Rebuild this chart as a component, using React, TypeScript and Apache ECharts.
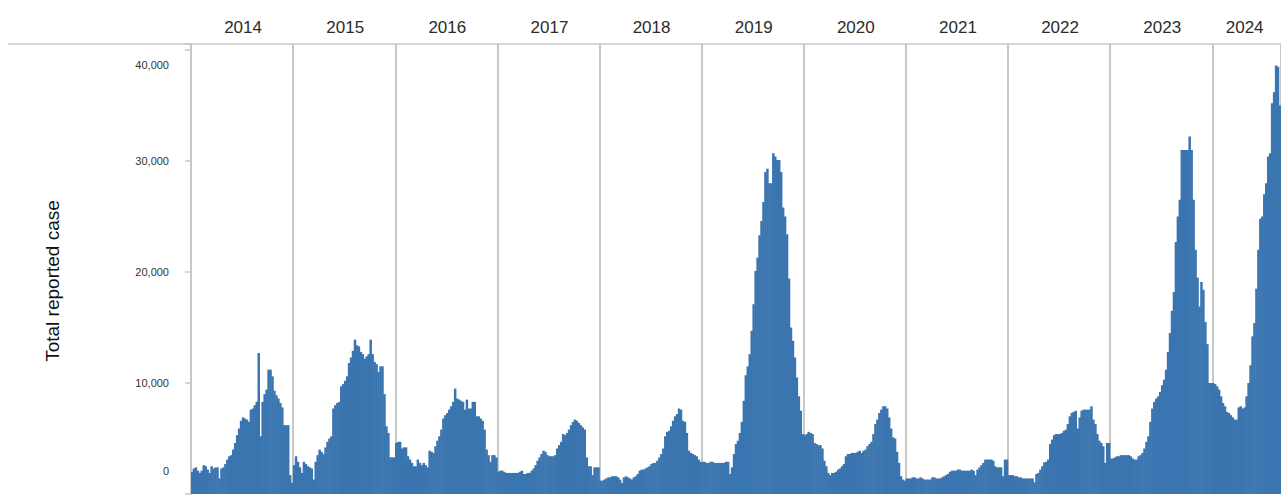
import React, { useEffect, useRef } from "react";
import * as echarts from "echarts";

const years = ["2014", "2015", "2016", "2017", "2018", "2019", "2020", "2021", "2022", "2023", "2024"];

const w2014 = [2000, 2300, 2400, 2100, 1900, 2100, 2600, 2500, 2200, 1900, 2500, 2300, 2400, 2400, 1400, 2300, 2400, 2700, 3100, 3400, 3500, 4000, 4600, 5300, 5900, 6600, 6900, 6800, 6700, 6500, 7600, 7700, 8000, 8300, 12700, 5200, 8300, 9000, 9400, 11200, 11200, 10600, 9300, 8900, 8600, 8200, 7800, 6200, 6200, 6200, 1700, 1000];
const w2015 = [2600, 3400, 2900, 2400, 1900, 2900, 2700, 2500, 2400, 2300, 1300, 2900, 3500, 4000, 3800, 3600, 4200, 4700, 5000, 5200, 7700, 8000, 8200, 8300, 9700, 9900, 10200, 10600, 11800, 12300, 12900, 13900, 13400, 13300, 12800, 12600, 12200, 12400, 12600, 13900, 12600, 11900, 11700, 11000, 11500, 11500, 9000, 6100, 5500, 3300, 3300, 3300];
const w2016 = [4600, 4700, 4700, 4100, 4200, 4200, 3400, 3100, 2800, 2500, 2500, 3100, 2800, 2600, 2800, 2600, 2400, 3900, 3800, 3700, 4300, 4800, 5200, 5800, 6800, 7100, 7300, 7600, 7900, 8300, 9500, 8600, 8500, 8400, 8300, 7600, 8500, 7700, 7700, 8300, 8300, 7000, 7000, 6800, 6600, 5800, 4000, 3500, 2900, 3500, 3500, 3300];
const w2017 = [2000, 2100, 2100, 2000, 1900, 1900, 1900, 1900, 1900, 1900, 1900, 2000, 2100, 1800, 1800, 1900, 1900, 2100, 2300, 2600, 3000, 3300, 3600, 3900, 3800, 3500, 3400, 3400, 3400, 3500, 4100, 4400, 4700, 5400, 5300, 5500, 5800, 6200, 6500, 6700, 6600, 6400, 6200, 6000, 5800, 3300, 2500, 2500, 1700, 2400, 2400, 2400];
const w2018 = [1200, 1200, 1300, 1400, 1500, 1500, 1600, 1600, 1600, 1500, 1300, 1000, 1500, 1600, 1500, 1400, 1300, 1500, 1600, 1800, 2100, 2200, 2200, 2300, 2400, 2500, 2700, 2800, 2800, 3000, 3300, 3600, 4100, 5200, 5600, 5700, 6100, 6600, 7000, 7200, 7700, 7600, 6600, 6500, 5500, 3900, 3700, 3600, 3500, 3400, 3100, 2900];
const w2019 = [2900, 2900, 2800, 2800, 2900, 2900, 2800, 2800, 2800, 2800, 2800, 2800, 2900, 2900, 1800, 2400, 3600, 4500, 4800, 5500, 6500, 8400, 10700, 11500, 12600, 14700, 17100, 20100, 21300, 23300, 24600, 26300, 29000, 29300, 28000, 28000, 30700, 30400, 30100, 30100, 29000, 25800, 25000, 23400, 19400, 15000, 13800, 12300, 10500, 8800, 7500, 5400];
const w2020 = [5300, 5400, 5600, 5500, 5400, 4600, 4500, 4400, 4400, 4100, 3000, 2500, 1900, 1700, 1900, 1900, 2000, 2200, 2300, 2500, 2700, 3400, 3600, 3600, 3700, 3700, 3700, 3800, 3900, 3700, 3900, 4000, 4300, 4500, 4700, 5400, 6300, 6700, 7300, 7600, 7900, 7900, 7700, 6900, 5900, 5100, 5000, 3800, 2800, 1600, 1300, 1200];
const w2021 = [1400, 1400, 1400, 1500, 1500, 1400, 1400, 1500, 1400, 1300, 1300, 1300, 1300, 1500, 1500, 1400, 1400, 1400, 1500, 1600, 1700, 1800, 2000, 2100, 2100, 2100, 2200, 2200, 2100, 2100, 2100, 2100, 2100, 2200, 2100, 1700, 2200, 2400, 2600, 2800, 3100, 3100, 3100, 3100, 3000, 2500, 2400, 2400, 2400, 1600, 3100, 3100];
const w2022 = [1700, 1700, 1700, 1600, 1600, 1500, 1500, 1400, 1400, 1400, 1400, 1400, 1400, 1050, 1800, 1900, 2200, 2500, 2850, 2900, 3100, 4500, 4900, 5300, 5400, 5400, 5400, 5500, 5700, 5800, 6300, 7000, 7300, 7400, 7500, 5900, 6900, 7500, 7600, 7600, 7600, 7600, 7900, 6700, 6300, 5400, 4800, 4600, 4300, 2800, 4600, 4600];
const w2023 = [3200, 3200, 3300, 3400, 3400, 3500, 3500, 3500, 3500, 3500, 3400, 3200, 3100, 3100, 3400, 3500, 3700, 4100, 4700, 5200, 6500, 7700, 8300, 8600, 8800, 9200, 9800, 10300, 11200, 12800, 14500, 16500, 18200, 22700, 25000, 26500, 31000, 31000, 31000, 31000, 32200, 31000, 26500, 22000, 19500, 16900, 19100, 18400, 15500, 13500, 10000, 10000];
const w2024 = [10000, 9900, 9700, 9400, 8800, 8200, 7900, 7400, 7300, 7100, 6900, 6700, 6700, 7800, 7900, 7700, 7800, 8800, 10000, 11600, 14200, 15400, 18500, 22000, 24800, 25000, 27000, 28000, 30400, 30700, 35200, 36200, 38600, 38500, 35000];

const weeklyByYear = [w2014, w2015, w2016, w2017, w2018, w2019, w2020, w2021, w2022, w2023, w2024];
const yTickValues = [0, 10000, 20000, 30000, 40000];
const yTitle = "Total reported case";

const FONT = "'Liberation Sans', Arial, Helvetica, sans-serif";

export default function App() {
  const ref = useRef<HTMLDivElement>(null);

  useEffect(() => {
    if (!ref.current) return;
    const chart = echarts.init(ref.current, null, { renderer: "svg" });

    const categories: string[] = [];
    const values: number[] = [];
    const yearStart = new Set<number>();
    const labelAt = new Set<number>();
    weeklyByYear.forEach((arr, yi) => {
      const start = categories.length;
      yearStart.add(start);
      labelAt.add(start + (arr.length >= 52 ? 26 : Math.floor(arr.length / 2) - 1));
      arr.forEach((v, wi) => {
        categories.push(`${years[yi]}-W${String(wi + 1).padStart(2, "0")}`);
        values.push(v);
      });
    });

    const H = 495;
    const gridTop = 44;
    const gridBottom = 1;
    const plotH = H - gridTop - gridBottom;
    const topTickValue = yTickValues[yTickValues.length - 1];
    const yMax = (topTickValue * plotH) / (plotH - 6);

    const fmt = (v: number) => {
      if (!yTickValues.includes(v)) return "";
      const s = v.toLocaleString("en-US");
      if (v === topTickValue) return `{top|${s}}`;
      if (v === 0) return `{bot|${s}}`;
      return `{mid|${s}}`;
    };

    chart.setOption({
      animation: false,
      backgroundColor: "#ffffff",
      grid: { left: 191, right: 0, top: gridTop, bottom: gridBottom, containLabel: false },
      xAxis: {
        type: "category",
        data: categories,
        position: "top",
        boundaryGap: true,
        axisLine: { show: false },
        axisTick: {
          show: true,
          interval: (i: number) => yearStart.has(i),
          length: 34,
          lineStyle: { color: "#c8c8c8", width: 2 },
        },
        axisLabel: {
          show: true,
          interval: (i: number) => labelAt.has(i),
          formatter: (v: string) => v.slice(0, 4),
          margin: 8,
          fontSize: 17,
          color: "#2b2b2b",
          fontFamily: FONT,
        },
        splitLine: {
          show: true,
          interval: (i: number) => yearStart.has(i) && i > 0,
          lineStyle: { color: "#c8c8c8", width: 2 },
        },
      },
      yAxis: {
        type: "value",
        min: 0,
        max: yMax,
        interval: 10000,
        axisLine: { show: true, lineStyle: { color: "#c8c8c8", width: 2 } },
        axisTick: { show: true, length: 6, lineStyle: { color: "#c8c8c8", width: 1.5 } },
        splitLine: { show: false },
        axisLabel: {
          margin: 22,
          formatter: fmt,
          fontSize: 11,
          color: "#333333",
          fontFamily: FONT,
          rich: {
            top: { fontSize: 11, color: "#333333", fontFamily: FONT, padding: [30, 0, 0, 0] },
            mid: { fontSize: 11, color: "#333333", fontFamily: FONT },
            bot: { fontSize: 11, color: "#333333", fontFamily: FONT, padding: [0, 0, 46, 0] },
          },
        },
      },
      series: [
        {
          type: "bar",
          data: values,
          barWidth: 2.5,
          itemStyle: { color: "#3a75b0" },
          silent: true,
        },
      ],
      graphic: [
        {
          type: "line",
          shape: { x1: 8, y1: gridTop, x2: 1281, y2: gridTop },
          style: { stroke: "#c8c8c8", lineWidth: 1.5 },
          z: 10,
        },
        {
          type: "text",
          x: 52,
          y: 281,
          rotation: Math.PI / 2,
          style: {
            text: yTitle,
            fontSize: 19,
            fontFamily: FONT,
            fill: "#111111",
            align: "center",
            verticalAlign: "middle",
            textAlign: "center",
            textVerticalAlign: "middle",
          },
        },
      ],
    });

    return () => {
      chart.dispose();
    };
  }, []);

  return (
    <div
      ref={ref}
      style={{ position: "absolute", left: 0, top: 0, width: 1281, height: 495 }}
    />
  );
}
